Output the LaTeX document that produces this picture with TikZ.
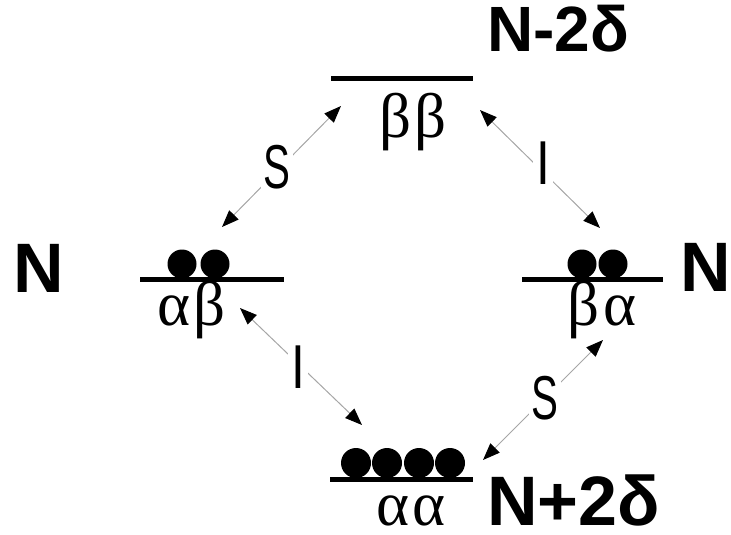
\documentclass[tikz,border=0pt]{standalone}
\usepackage{fontspec}
\setmainfont{Liberation Sans}
\newfontfamily\greekserif{Liberation Serif}
\usetikzlibrary{arrows.meta}
\newcommand\grk[2]{{\greekserif\fontsize{63}{63}\selectfont #1\kern3pt#2}}
\begin{document}
\begin{tikzpicture}[x=1pt,y=-1pt,
  level/.style={line width=5pt},
  arrowtip/.tip={Triangle[length=17pt,width=13pt,color=black]},
  arr/.style={draw=black!35, line width=1pt, arrowtip-arrowtip},
  lab/.style={fill=white, inner sep=3pt, font=\fontsize{62}{62}\selectfont},
  greek/.style={anchor=base, inner sep=0pt},
  energy/.style={anchor=base west, inner sep=0pt, font=\bfseries\fontsize{64}{64}\selectfont},
  bigenergy/.style={energy, font=\bfseries\fontsize{70}{70}\selectfont},
]
\useasboundingbox (0,0) rectangle (731,535);

% levels
\draw[level] (331,79) -- (473,79);
\draw[level] (140,279) -- (284,279);
\draw[level] (522,279) -- (663,279);
\draw[level] (330,479) -- (473,479);

% populations
\fill (182,264) circle (14.5) (215,264) circle (14.5);
\fill (582,264) circle (14.5) (613,264) circle (14.5);
\fill (356,463) circle (15) (387,463) circle (15) (419,463) circle (15) (450,463) circle (15);

% state labels
\node[greek] (bb) at (413,137) {\grk{β}{β}};
\node[greek] (ab) at (192,325) {\grk{α}{β}};
\node[greek] (ba) at (602,325) {\grk{β}{α}};
\node[greek] (aa) at (411,525) {\grk{α}{α}};

% energies
\node[energy] (etop) at (487,52) {N-2δ};
\node[bigenergy] (eleft) at (13,292) {N};
\node[bigenergy] (eright) at (680,291) {N};
\node[bigenergy] (ebot) at (487,525) {N+2δ};

% arrow ends
\coordinate (s1a) at (222,227); \coordinate (s1b) at (341,106);
\coordinate (i1a) at (480,110); \coordinate (i1b) at (600,228);
\coordinate (i2a) at (240,308); \coordinate (i2b) at (362,425);
\coordinate (s2a) at (603,340); \coordinate (s2b) at (483,460);

\draw[arr] (s1a) -- (s1b);
\draw[arr] (i1a) -- (i1b);
\draw[arr] (i2a) -- (i2b);
\draw[arr] (s2a) -- (s2b);

\node[lab] (ls1) at (277,167) {\scalebox{0.65}[1]{S}};
\node[lab] (li1) at (543,163) {\scalebox{0.8}[1]{I}};
\node[lab] (li2) at (298,367) {\scalebox{0.8}[1]{I}};
\node[lab] (ls2) at (545,398) {\scalebox{0.65}[1]{S}};
\end{tikzpicture}
\end{document}
